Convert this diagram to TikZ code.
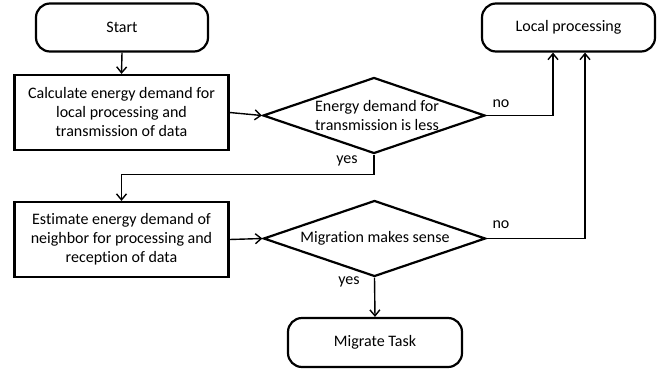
\documentclass[tikz,border=0pt]{standalone}
\usepackage{fontspec}
\setmainfont{Carlito}[Ligatures=NoCommon]
\usetikzlibrary{arrows.meta,shapes.geometric}
\begin{document}
\begin{tikzpicture}[x=1pt,y=-1pt,
  every node/.style={font=\fontsize{16}{19}\selectfont},
  term/.style={draw,line width=2.2pt,rounded corners=14pt,minimum width=172pt,minimum height=48pt},
  proc/.style={draw,line width=2.2pt,minimum width=214pt,minimum height=75pt,align=center},
  dec/.style={draw,line width=2.2pt,diamond,inner sep=0pt,minimum width=222pt,minimum height=76pt},
  arr/.style={line width=1.4pt,-{Straight Barb[length=6pt,width=10pt,line width=1.4pt]}},
  lbl/.style={inner sep=0pt}]
\useasboundingbox (0,0) rectangle (661,370);
\node[term] (start) at (122,27.5) {Start};
\node[proc] (calc) at (121.5,112.5) {Calculate energy demand for\\local processing and\\transmission of data};
\node[dec] (d1) at (374,115.5) {};
\node[align=center] (d1t) at (377,116) {Energy demand for\\transmission is less};
\node[term,minimum width=173pt] (lp) at (568.5,27.5) {Local processing};
\node[proc] (est) at (121.5,239.5) {Estimate energy demand of\\neighbor for processing and\\reception of data};
\node[dec] (d2) at (374.5,238.5) {};
\node (d2t) at (375,238) {Migration makes sense};
\node[term,minimum width=174pt,minimum height=49pt] (mt) at (375,342.5) {Migrate Task};
\draw[arr] (start.south) -- (calc.north);
\draw[arr] (calc.east) -- (d1.west);
\draw[arr] (d1.east) -| ([xshift=-15.5pt]lp.south);
\draw[arr] (d1.south) -- ++(0,20) -| (est.north);
\draw[arr] (est.east) -- (d2.west);
\draw[arr] (d2.east) -| ([xshift=16.5pt]lp.south);
\draw[arr] (d2.south) -- (mt.north);
\node[lbl] (no1) at (501,104) {no};
\node[lbl] (no2) at (501,225) {no};
\node[lbl] (yes1) at (347,161) {yes};
\node[lbl] (yes2) at (349,282) {yes};
\end{tikzpicture}
\end{document}
